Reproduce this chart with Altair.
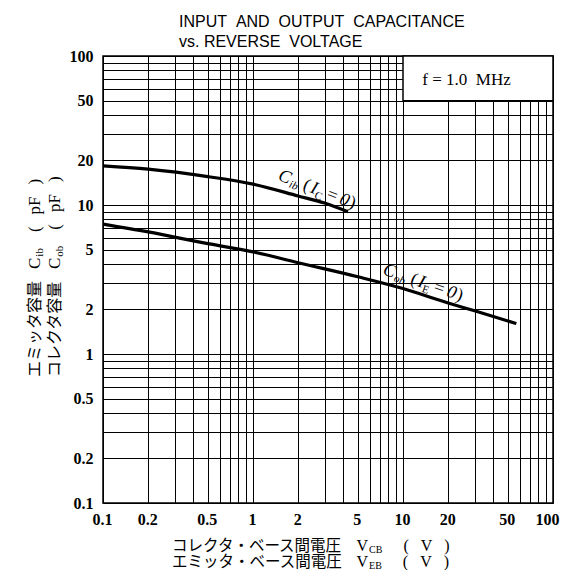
import altair as alt
import pandas as pd

# ---------------- data ----------------
cib_v = [0.1, 0.2, 0.5, 1, 2, 3, 4.3]
cib_c = [18.3, 17.4, 15.5, 13.8, 11.5, 10.3, 9.0]
cob_v = [0.1, 0.2, 0.5, 1, 2, 5, 10, 20, 30, 57]
cob_c = [7.45, 6.6, 5.5, 4.85, 4.1, 3.3, 2.75, 2.2, 1.95, 1.6]

grid_vals = [0.1, 0.2, 0.3, 0.4, 0.5, 0.6, 0.7, 0.8, 0.9,
             1, 2, 3, 4, 5, 6, 7, 8, 9,
             10, 20, 30, 40, 50, 60, 70, 80, 90, 100]
label_vals = [0.1, 0.2, 0.5, 1, 2, 5, 10, 20, 50, 100]

box_v = [10, 100]
box_c = [50, 100]
freq_text = "f\u00a0=\u00a01.0\u00a0\u00a0MHz"
freq_pos = [26.5, 69]

cib_label_pos = [1.45, 14.8]
cob_label_pos = [7.24, 3.44]

title_lines = ["INPUT\u00a0\u00a0AND\u00a0\u00a0OUTPUT\u00a0\u00a0CAPACITANCE",
               "vs.\u00a0REVERSE\u00a0\u00a0VOLTAGE"]

# ---------------- helpers ----------------
SERIF = "Liberation Serif"
SANS = "Liberation Sans"
CJK = "Noto Sans CJK JP"

EM = {"C": .667, "B": .667, "E": .611, "V": .722, "I": .333, "(": .333, ")": .333,
      "p": .5, "F": .556, "i": .278, "b": .5, "o": .5, "=": .6, "0": .5, " ": .25}


def text_width(t, fam, size):
    if fam == CJK:
        return sum(size if ord(ch) > 0x2000 else 0.6 * size for ch in t)
    return sum(EM.get(ch, 0.5) for ch in t) * size


xs = alt.Scale(type="log", domain=[0.1, 100], nice=False)
ys = alt.Scale(type="log", domain=[0.1, 100], nice=False)
lab_expr = ("indexof([0.1,0.2,0.5,1,2,5,10,20,50,100], datum.value) >= 0 ? datum.label : ''")
xaxis = alt.Axis(values=grid_vals, format="~g", labelExpr=lab_expr, title=None,
                 grid=True, ticks=False, domain=False, labelPadding=8,
                 labelFont=SERIF, labelFontSize=16, labelFontWeight="bold", labelColor="black",
                 gridColor="black", gridOpacity=1, gridWidth=1, labelFlush=False,
                 labelAlign={"condition": {"test": "datum.value == 100", "value": "right"},
                             "value": "center"},
                 labelOffset={"condition": {"test": "datum.value == 100", "value": 6},
                              "value": -1})
yaxis = alt.Axis(values=grid_vals, format="~g", labelExpr=lab_expr, title=None,
                 grid=True, ticks=False, domain=False, labelPadding=10,
                 labelFont=SERIF, labelFontSize=16, labelFontWeight="bold", labelColor="black",
                 gridColor="black", gridOpacity=1, gridWidth=1, labelFlush=False)
X = alt.X("v:Q", scale=xs, axis=xaxis)
Y = alt.Y("c:Q", scale=ys, axis=yaxis)


def piece_layers(pieces, anchor, angle=0):
    """pieces: (text, font, size, style, dy, gap_before)"""
    layers = []
    off = 0.0
    if anchor[0] == "data":
        df = pd.DataFrame({"v": [anchor[1]], "c": [anchor[2]]})
        enc = dict(x=X, y=Y)
    else:
        df = pd.DataFrame({"a": [0]})
        enc = dict(x=alt.value(anchor[1]), y=alt.value(anchor[2]))
    for (t, fam, size, style, dy, gap) in pieces:
        off += gap
        layers.append(
            alt.Chart(df).mark_text(text=t, font=fam, fontSize=size, fontStyle=style,
                                    align="left", baseline="alphabetic", angle=angle,
                                    dx=off, dy=dy, color="black").encode(**enc))
        off += text_width(t, fam, size)
    return layers


# ---------------- layers ----------------
curves = pd.DataFrame({
    "v": cib_v + cob_v,
    "c": cib_c + cob_c,
    "s": ["Cib"] * len(cib_v) + ["Cob"] * len(cob_v),
})
lines = alt.Chart(curves).mark_line(color="black", strokeWidth=3.2, interpolate="monotone").encode(
    x=X, y=Y, detail="s:N")

box = alt.Chart(pd.DataFrame({"v": [box_v[0]], "v2": [box_v[1]], "c": [box_c[0]], "c2": [box_c[1]]})
                ).mark_rect(fill="white", stroke="black", strokeWidth=1.5).encode(
    x=X, x2="v2", y=Y, y2="c2")

freq = alt.Chart(pd.DataFrame({"v": [freq_pos[0]], "c": [freq_pos[1]]})).mark_text(
    text=freq_text, font=SERIF, fontSize=17, align="center", baseline="middle", color="black"
).encode(x=X, y=Y)


def curve_label(sub1, sub2, pos, angle):
    return piece_layers([
        ("C", SERIF, 18, "italic", 0, 0),
        (sub1, SERIF, 11, "italic", 3, 1),
        ("(", SERIF, 18, "normal", 0, 5),
        ("I", SERIF, 18, "italic", 0, 2),
        (sub2, SERIF, 11, "normal", 4, 0),
        ("=", SERIF, 18, "normal", 0, 4),
        ("0", SERIF, 18, "italic", 0, 3),
        (")", SERIF, 18, "normal", 0, 1),
    ], ("data", pos[0], pos[1]), angle=angle)


cib_label = curve_label("ib", "C", cib_label_pos, 21)
cob_label = curve_label("ob", "E", cob_label_pos, 19)

title = []
for i, line in enumerate(title_lines):
    title.append(alt.Chart(pd.DataFrame({"a": [0]})).mark_text(
        text=line, font=SANS, fontSize=16, align="left", baseline="alphabetic", color="black"
    ).encode(x=alt.value(76), y=alt.value(-29 + 20 * i)))


def xtitle(jp, sub, y):
    return piece_layers([
        (jp, CJK, 15.5, "normal", 0, 0),
        ("V", SERIF, 16, "normal", 0, 14),
        (sub, SERIF, 10, "normal", 2, 1),
        ("(", SERIF, 16, "normal", 0, 21),
        ("V", SERIF, 16, "normal", 0, 12),
        (")", SERIF, 16, "normal", 0, 12),
    ], ("px", 69, y))


xtitle1 = xtitle("コレクタ・ベース間電圧", "CB", 495)
xtitle2 = xtitle("エミッタ・ベース間電圧", "EB", 511)


def ytitle(jp, sub, x):
    return piece_layers([
        (jp, CJK, 16, "normal", 0, 0),
        ("C", SERIF, 17, "normal", 0, 12),
        (sub, SERIF, 11, "normal", 3, 1),
        ("(", SERIF, 17, "normal", 0, 16),
        ("pF", SERIF, 17, "normal", 0, 12),
        (")", SERIF, 17, "normal", 0, 12),
    ], ("px", x, 321), angle=270)


ytitle1 = ytitle("エミッタ容量", "ib", -63)
ytitle2 = ytitle("コレクタ容量", "ob", -43)

chart = alt.layer(
    lines, box, freq, *cib_label, *cob_label, *title, *xtitle1, *xtitle2, *ytitle1, *ytitle2
).properties(
    width=450, height=447,
    padding={"left": 95, "top": 48, "right": 7, "bottom": 67},
    autosize=alt.AutoSizeParams(type="none"),
    background="white",
).configure_view(stroke="black", strokeWidth=1.5)

chart.save("out.html", embed_options={"renderer": "svg", "actions": False})
